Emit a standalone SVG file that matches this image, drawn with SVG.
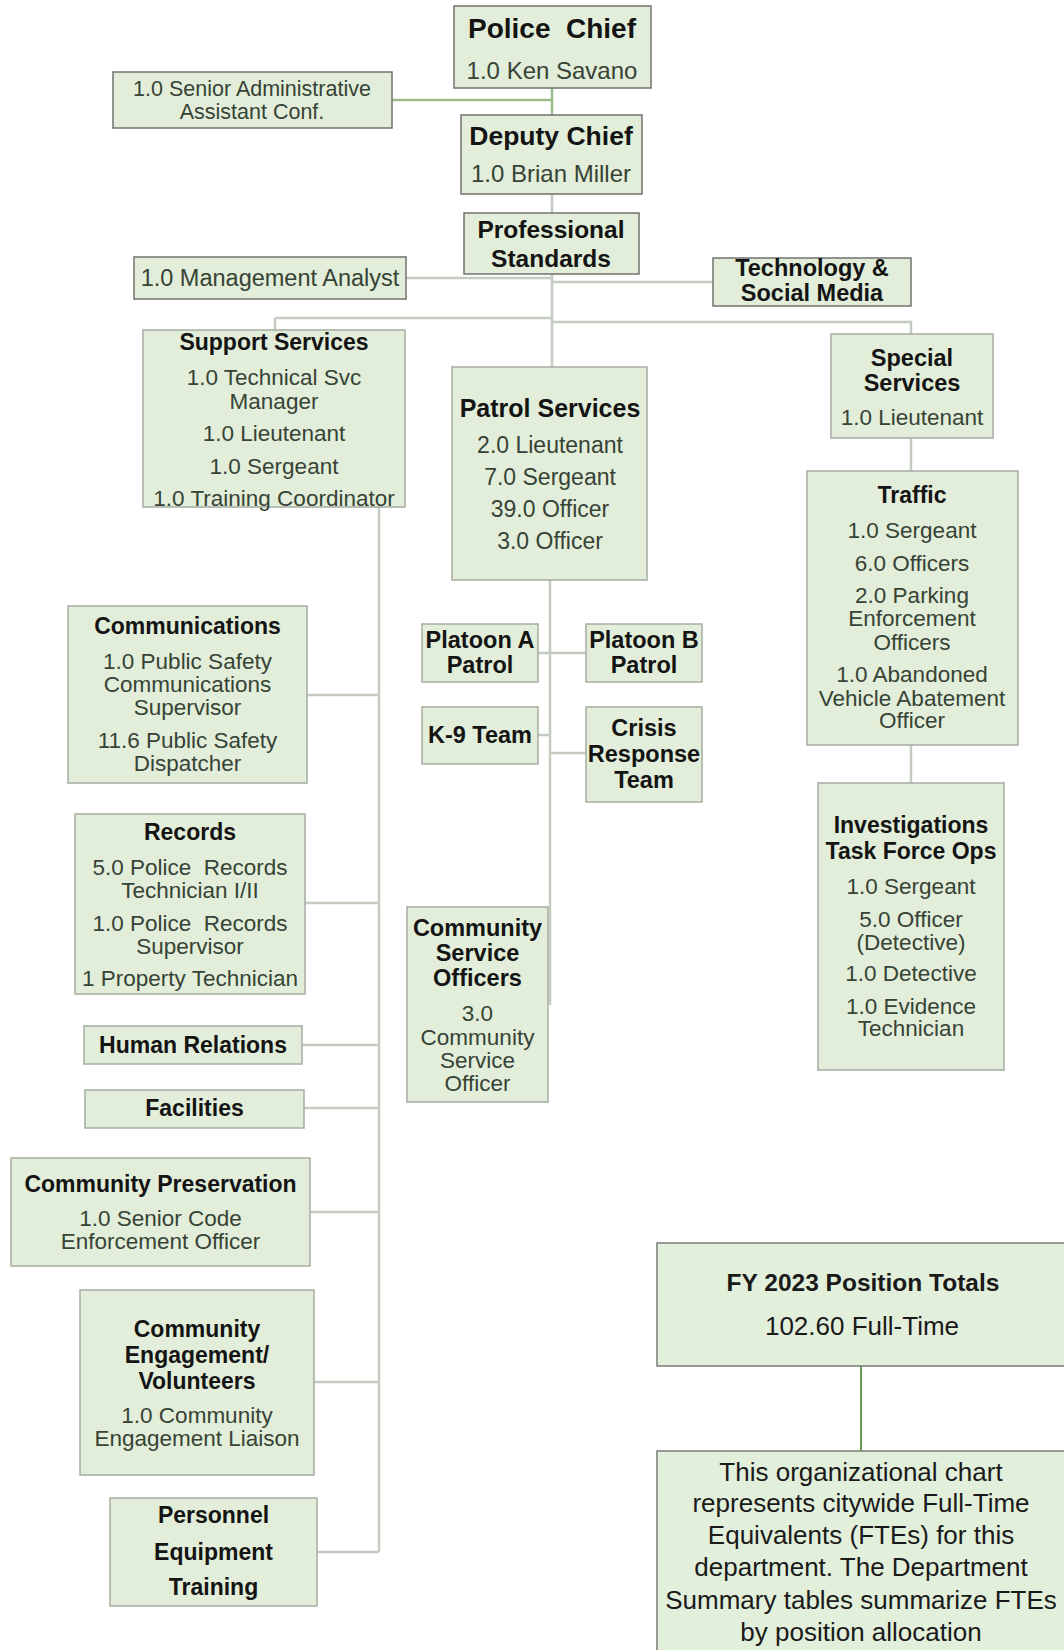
<svg xmlns="http://www.w3.org/2000/svg" width="1064" height="1650" viewBox="0 0 1064 1650">
<style>
  .box { fill: #e2eed9; stroke: #a5ada1; stroke-width: 1.5; }
  .boxd { fill: #e2eed9; stroke: #727272; stroke-width: 1.5; }
  .boxc { fill: #e2efda; stroke: #7a7a7a; stroke-width: 1.5; }
  .h { font-family: "Liberation Sans", Arial, sans-serif; font-weight: bold; fill: #141414; text-anchor: middle; font-size: 23px; }
  .t { font-family: "Liberation Sans", Arial, sans-serif; fill: #364336; text-anchor: middle; font-size: 22.5px; }
  .ch { font-family: "Liberation Sans", Arial, sans-serif; font-weight: bold; fill: #1a1a1a; text-anchor: middle; font-size: 24.5px; }
  .ct { font-family: "Liberation Sans", Arial, sans-serif; fill: #1a1a1a; text-anchor: middle; font-size: 26px; }
  .ln { stroke: #c4cbc0; stroke-width: 2.5; fill: none; }
  .lg { stroke: #9dba89; stroke-width: 2.5; fill: none; }
  .lf { stroke: #6f9a52; stroke-width: 2; fill: none; }
</style>

<g id="connectors">
  <path class="lg" d="M552,88 V115 M392,100 H552"/>
  <path class="ln" d="M552,194 V213 M552,274 V367 M406,278 H552 M552,282 H713"/>
  <path class="ln" d="M275,318 H552 M275,318 V330 M552,322 H911 V334"/>
  <path class="ln" d="M911,438 V471 M911,745 V783"/>
  <path class="ln" d="M379,507 V1552 M307,695 H379 M305,903 H379 M302,1045 H379 M304,1108 H379 M310,1212 H379 M314,1382 H379 M317,1552 H379"/>
  <path class="ln" d="M550,580 V1005 M538,653 H586 M538,735 H550 M550,753 H586"/>
  <path class="lf" d="M861,1366 V1451"/>
</g>

<g id="police-chief">
  <rect class="boxd" x="454" y="6" width="197" height="82"/>
  <text class="h" x="552" y="38" style="font-size:28px">Police&#160; Chief</text>
  <text class="t" x="552" y="78.5" style="font-size:24px">1.0 Ken Savano</text>
</g>

<g id="senior-admin">
  <rect class="boxd" x="113" y="72" width="279" height="56"/>
  <text class="t" x="252" y="96" style="font-size:21.5px">1.0 Senior Administrative</text>
  <text class="t" x="252" y="119" style="font-size:21.5px">Assistant Conf.</text>
</g>

<g id="deputy-chief">
  <rect class="boxd" x="461" y="115" width="181" height="79"/>
  <text class="h" x="551" y="144.5" style="font-size:26.5px">Deputy Chief</text>
  <text class="t" x="551" y="181.5" style="font-size:24px">1.0 Brian Miller</text>
</g>

<g id="professional-standards">
  <rect class="boxd" x="464" y="213" width="175" height="61"/>
  <text class="h" x="551" y="237.5" style="font-size:24.5px">Professional</text>
  <text class="h" x="551" y="266.5" style="font-size:24.5px">Standards</text>
</g>

<g id="management-analyst">
  <rect class="boxd" x="134" y="257" width="272" height="42"/>
  <text class="t" x="270" y="286" style="font-size:23.5px">1.0 Management Analyst</text>
</g>

<g id="technology-social-media">
  <rect class="boxd" x="713" y="258" width="198" height="48"/>
  <text class="h" x="812" y="276" style="font-size:23.5px">Technology &amp;</text>
  <text class="h" x="812" y="301" style="font-size:23.5px">Social Media</text>
</g>

<g id="support-services">
  <rect class="box" x="143" y="330" width="262" height="177"/>
  <text class="h" x="274" y="350">Support Services</text>
  <text class="t" x="274" y="385">1.0 Technical Svc</text>
  <text class="t" x="274" y="409">Manager</text>
  <text class="t" x="274" y="441">1.0 Lieutenant</text>
  <text class="t" x="274" y="474">1.0 Sergeant</text>
  <text class="t" x="274" y="506">1.0 Training Coordinator</text>
</g>

<g id="patrol-services">
  <rect class="box" x="452" y="367" width="195" height="213"/>
  <text class="h" x="550" y="417" style="font-size:25px">Patrol Services</text>
  <text class="t" x="550" y="453" style="font-size:23px">2.0 Lieutenant</text>
  <text class="t" x="550" y="485" style="font-size:23px">7.0 Sergeant</text>
  <text class="t" x="550" y="517" style="font-size:23px">39.0 Officer</text>
  <text class="t" x="550" y="549" style="font-size:23px">3.0 Officer</text>
</g>

<g id="special-services">
  <rect class="box" x="831" y="334" width="162" height="104"/>
  <text class="h" x="912" y="365.5" style="font-size:23.5px">Special</text>
  <text class="h" x="912" y="390.5" style="font-size:23.5px">Services</text>
  <text class="t" x="912" y="425">1.0 Lieutenant</text>
</g>

<g id="traffic">
  <rect class="box" x="807" y="471" width="211" height="274"/>
  <text class="h" x="912" y="503">Traffic</text>
  <text class="t" x="912" y="538">1.0 Sergeant</text>
  <text class="t" x="912" y="571">6.0 Officers</text>
  <text class="t" x="912" y="603">2.0 Parking</text>
  <text class="t" x="912" y="626">Enforcement</text>
  <text class="t" x="912" y="650">Officers</text>
  <text class="t" x="912" y="682">1.0 Abandoned</text>
  <text class="t" x="912" y="706">Vehicle Abatement</text>
  <text class="t" x="912" y="728">Officer</text>
</g>

<g id="investigations">
  <rect class="box" x="818" y="783" width="186" height="287"/>
  <text class="h" x="911" y="833">Investigations</text>
  <text class="h" x="911" y="859">Task Force Ops</text>
  <text class="t" x="911" y="894">1.0 Sergeant</text>
  <text class="t" x="911" y="927">5.0 Officer</text>
  <text class="t" x="911" y="950">(Detective)</text>
  <text class="t" x="911" y="981">1.0 Detective</text>
  <text class="t" x="911" y="1014">1.0 Evidence</text>
  <text class="t" x="911" y="1036">Technician</text>
</g>

<g id="communications">
  <rect class="box" x="68" y="606" width="239" height="177"/>
  <text class="h" x="187.5" y="634">Communications</text>
  <text class="t" x="187.5" y="669">1.0 Public Safety</text>
  <text class="t" x="187.5" y="692">Communications</text>
  <text class="t" x="187.5" y="715">Supervisor</text>
  <text class="t" x="187.5" y="748">11.6 Public Safety</text>
  <text class="t" x="187.5" y="771">Dispatcher</text>
</g>

<g id="records">
  <rect class="box" x="75" y="814" width="230" height="180"/>
  <text class="h" x="190" y="840">Records</text>
  <text class="t" x="190" y="875">5.0 Police&#160; Records</text>
  <text class="t" x="190" y="898">Technician I/II</text>
  <text class="t" x="190" y="931">1.0 Police&#160; Records</text>
  <text class="t" x="190" y="954">Supervisor</text>
  <text class="t" x="190" y="986">1 Property Technician</text>
</g>

<g id="platoon-a">
  <rect class="box" x="422" y="624" width="116" height="58"/>
  <text class="h" x="480" y="648" style="font-size:23.5px">Platoon A</text>
  <text class="h" x="480" y="673" style="font-size:23.5px">Patrol</text>
</g>

<g id="platoon-b">
  <rect class="box" x="586" y="624" width="116" height="58"/>
  <text class="h" x="644" y="648" style="font-size:23.5px">Platoon B</text>
  <text class="h" x="644" y="673" style="font-size:23.5px">Patrol</text>
</g>

<g id="k9-team">
  <rect class="box" x="422" y="707" width="116" height="57"/>
  <text class="h" x="480" y="743" style="font-size:23.5px">K-9 Team</text>
</g>

<g id="crisis-response-team">
  <rect class="box" x="586" y="707" width="116" height="95"/>
  <text class="h" x="644" y="736" style="font-size:23.5px">Crisis</text>
  <text class="h" x="644" y="762" style="font-size:23.5px">Response</text>
  <text class="h" x="644" y="788" style="font-size:23.5px">Team</text>
</g>

<g id="community-service-officers">
  <rect class="box" x="407" y="907" width="141" height="195"/>
  <text class="h" x="477.5" y="936" style="font-size:23.5px">Community</text>
  <text class="h" x="477.5" y="961" style="font-size:23.5px">Service</text>
  <text class="h" x="477.5" y="986" style="font-size:23.5px">Officers</text>
  <text class="t" x="477.5" y="1021">3.0</text>
  <text class="t" x="477.5" y="1045">Community</text>
  <text class="t" x="477.5" y="1068">Service</text>
  <text class="t" x="477.5" y="1091">Officer</text>
</g>

<g id="human-relations">
  <rect class="box" x="84" y="1026" width="218" height="38"/>
  <text class="h" x="193" y="1053">Human Relations</text>
</g>

<g id="facilities">
  <rect class="box" x="85" y="1090" width="219" height="38"/>
  <text class="h" x="194.5" y="1116">Facilities</text>
</g>

<g id="community-preservation">
  <rect class="box" x="11" y="1158" width="299" height="108"/>
  <text class="h" x="160.5" y="1192">Community Preservation</text>
  <text class="t" x="160.5" y="1226">1.0 Senior Code</text>
  <text class="t" x="160.5" y="1249">Enforcement Officer</text>
</g>

<g id="community-engagement">
  <rect class="box" x="80" y="1290" width="234" height="185"/>
  <text class="h" x="197" y="1337">Community</text>
  <text class="h" x="197" y="1363">Engagement/</text>
  <text class="h" x="197" y="1389">Volunteers</text>
  <text class="t" x="197" y="1423">1.0 Community</text>
  <text class="t" x="197" y="1446">Engagement Liaison</text>
</g>

<g id="personnel-equipment-training">
  <rect class="box" x="110" y="1498" width="207" height="108"/>
  <text class="h" x="213.5" y="1523">Personnel</text>
  <text class="h" x="213.5" y="1560">Equipment</text>
  <text class="h" x="213.5" y="1595">Training</text>
</g>

<g id="position-totals">
  <rect class="boxc" x="657" y="1243" width="420" height="123"/>
  <text class="ch" x="863" y="1291">FY 2023 Position Totals</text>
  <text class="ct" x="862" y="1335">102.60 Full-Time</text>
</g>

<g id="fte-note">
  <rect class="boxc" x="657" y="1451" width="420" height="220"/>
  <text class="ct" x="861" y="1481">This organizational chart</text>
  <text class="ct" x="861" y="1512">represents citywide Full-Time</text>
  <text class="ct" x="861" y="1544">Equivalents (FTEs) for this</text>
  <text class="ct" x="861" y="1576">department. The Department</text>
  <text class="ct" x="861" y="1609">Summary tables summarize FTEs</text>
  <text class="ct" x="861" y="1641">by position allocation</text>
</g>
</svg>
